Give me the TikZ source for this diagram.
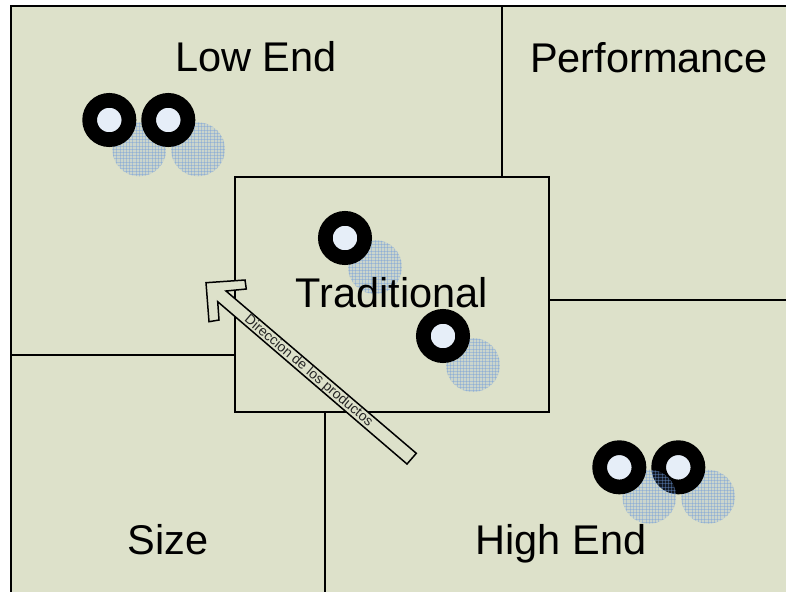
\documentclass[tikz,border=0pt]{standalone}
\usepackage{fontspec}
\setmainfont{Liberation Sans}
\definecolor{panel}{HTML}{DDE1CA}
\definecolor{hole}{HTML}{E6EEF8}
\definecolor{gridblue}{HTML}{6E9ADB}
\tikzset{
  edge/.style={draw=black,line width=1.5pt},
  ring/.style={circle,draw=black,fill=hole,line width=14.7pt,minimum size=39.3pt,inner sep=0pt},
  big/.style={font=\fontsize{41.5pt}{42pt}\selectfont,text=black,inner sep=0pt,anchor=base},
  small/.style={font=\fontsize{13.9pt}{14pt}\selectfont,text=black!85,inner sep=0pt},
}
\newcommand{\hatchdisc}[2]{%
  \begin{scope}
    \clip (#1,#2) circle[radius=27];
    \fill[gridblue,opacity=.16] (#1-28,#2-28) rectangle (#1+28,#2+28);
    \foreach \k in {-9,...,9}{
      \draw[gridblue,opacity=.38,line width=.9pt] (#1+\k*3.2,#2-28) -- (#1+\k*3.2,#2+28);
      \draw[gridblue,opacity=.38,line width=.9pt] (#1-28,#2+\k*3.2) -- (#1+28,#2+\k*3.2);
    }
  \end{scope}}
\begin{document}
\begin{tikzpicture}[x=1pt,y=-1pt]
\useasboundingbox (0,0) rectangle (786,592);
\fill[panel] (11,6) rectangle (786,592);
\draw[edge] (786,6) -- (11,6) -- (11,592);
\draw[edge] (502,6) -- (502,177);
\draw[edge] (11,355) -- (235,355);
\draw[edge] (325,412) -- (325,592);
\draw[edge] (549,300) -- (786,300);
\draw[edge] (235,177) rectangle (549,412);
% low end group
\hatchdisc{139.3}{149.3}
\hatchdisc{198}{149.3}
\node[ring] (r1) at (109.3,120) {};
\node[ring] (r2) at (168.3,120) {};
% traditional group
\hatchdisc{375}{267}
\hatchdisc{473}{365}
\node[ring] (r3) at (345,238) {};
\node[ring] (r4) at (443,336) {};
% high end group
\hatchdisc{708}{496.7}
\node[ring] (r6) at (678.3,467.3) {};
\hatchdisc{649.3}{496.7}
\node[ring] (r5) at (619.3,467.3) {};
% arrow
\draw[edge,fill=panel,line join=miter]
  (206,282.7) -- (245,280) -- (246.3,289) -- (226,291) -- (416.3,453.3) -- (407,464)
  -- (217.7,301.7) -- (219,320) -- (209,321.7) -- cycle;
\node[small,rotate=-40.4] (dir) at (308.5,371) {Direccion de los productos};
% labels
\node[big] (low) at (256,71) {Low End};
\node[big] (perf) at (649,72) {Performance};
\node[big] (trad) at (392,307) {Traditional};
\node[big] (size) at (168,554) {Size};
\node[big] (high) at (561,554) {High End};
\end{tikzpicture}
\end{document}
